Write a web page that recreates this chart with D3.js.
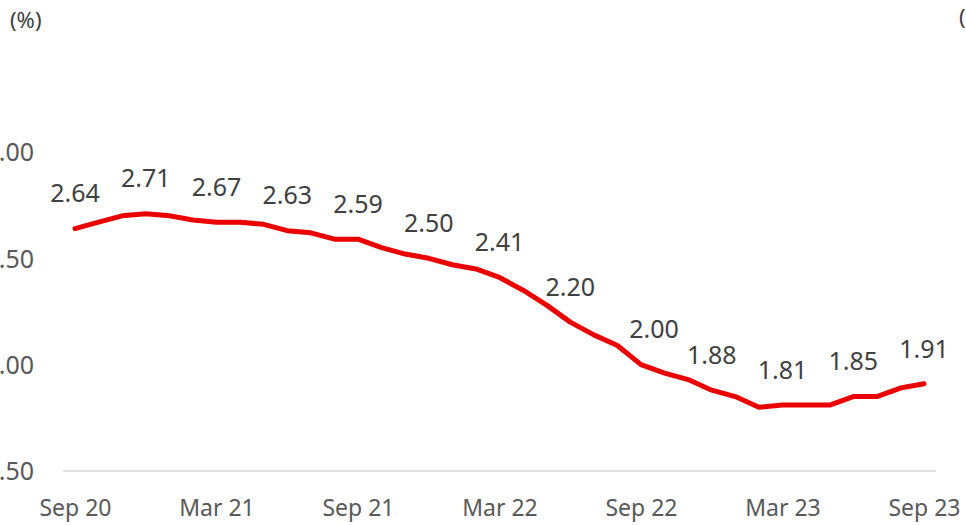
<!DOCTYPE html>
<html>
<head>
<meta charset="utf-8">
<script src="https://cdn.jsdelivr.net/npm/d3@7"></script>
<style>
  html, body { margin: 0; padding: 0; background: #fff; }
  svg { display: block; }
</style>
</head>
<body>
<svg id="chart" width="966" height="525"></svg>
<script>
// ---- data ----
const months = [
  "Sep 20","Oct 20","Nov 20","Dec 20","Jan 21","Feb 21","Mar 21","Apr 21","May 21","Jun 21",
  "Jul 21","Aug 21","Sep 21","Oct 21","Nov 21","Dec 21","Jan 22","Feb 22","Mar 22","Apr 22",
  "May 22","Jun 22","Jul 22","Aug 22","Sep 22","Oct 22","Nov 22","Dec 22","Jan 23","Feb 23",
  "Mar 23","Apr 23","May 23","Jun 23","Jul 23","Aug 23","Sep 23"
];
const values = [
  2.64, 2.67, 2.70, 2.71, 2.70, 2.68, 2.67, 2.67, 2.66, 2.63,
  2.62, 2.59, 2.59, 2.55, 2.52, 2.50, 2.47, 2.45, 2.41, 2.35,
  2.28, 2.20, 2.14, 2.09, 2.00, 1.96, 1.93, 1.88, 1.85, 1.80,
  1.81, 1.81, 1.81, 1.85, 1.85, 1.89, 1.91
];
const xTickLabels = ["Sep 20","Mar 21","Sep 21","Mar 22","Sep 22","Mar 23","Sep 23"];
const labelledMonths = ["Sep 20","Dec 20","Mar 21","Jun 21","Sep 21","Dec 21","Mar 22","Jun 22","Sep 22","Dec 22","Mar 23","Jun 23","Sep 23"];
const yTicks = [1.5, 2.0, 2.5, 3.0];
const unitLabel = "(%)";

// ---- drawing ----
const svg = d3.select("#chart");
const font = "'Noto Sans', 'Open Sans', sans-serif";

const x = d3.scalePoint().domain(months).range([75, 924]);
const y = d3.scaleLinear().domain([1.5, 3.0]).range([471, 152]);

// baseline
svg.append("line")
  .attr("x1", 63).attr("x2", 936)
  .attr("y1", y(1.5)).attr("y2", y(1.5))
  .attr("stroke", "#d9d9d9").attr("stroke-width", 1.5);

// y axis labels (left part is clipped by the page edge, as in the reference)
const yAxis = d3.axisLeft(y).tickValues(yTicks).tickFormat(d3.format(".2f")).tickSize(0).tickPadding(0);
const yg = svg.append("g").attr("transform", "translate(34,0)").call(yAxis);
yg.select(".domain").remove();
yg.selectAll("text")
  .attr("font-family", font).attr("font-size", 25).attr("fill", "#595959")
  .attr("dy", "0.35em");

// x axis labels
const xAxis = d3.axisBottom(x).tickValues(xTickLabels).tickSize(0).tickPadding(0);
const xg = svg.append("g").attr("transform", "translate(0,516)").call(xAxis);
xg.select(".domain").remove();
xg.selectAll("text")
  .attr("font-family", font).attr("font-size", 23).attr("fill", "#595959")
  .attr("dy", "0");

// line
const line = d3.line().x((d, i) => x(months[i])).y(d => y(d)).curve(d3.curveLinear);
svg.append("path")
  .datum(values)
  .attr("d", line)
  .attr("fill", "none")
  .attr("stroke", "#eb0000")
  .attr("stroke-width", 5)
  .attr("stroke-linejoin", "round")
  .attr("stroke-linecap", "round");

// value labels
svg.append("g").selectAll("text")
  .data(labelledMonths)
  .join("text")
  .attr("x", m => x(m) + (m === "Sep 22" ? 13 : 0))
  .attr("y", m => y(values[months.indexOf(m)]) - 35)
  .attr("dy", "0.35em")
  .attr("text-anchor", "middle")
  .attr("font-family", font).attr("font-size", 25).attr("fill", "#404040")
  .text(m => values[months.indexOf(m)].toFixed(2));

// unit labels
svg.append("text").attr("x", 10).attr("y", 28)
  .attr("font-family", font).attr("font-size", 22).attr("fill", "#404040")
  .text(unitLabel);
svg.append("text").attr("x", 959).attr("y", 25)
  .attr("font-family", font).attr("font-size", 22).attr("fill", "#404040")
  .text(unitLabel);
</script>
</body>
</html>
